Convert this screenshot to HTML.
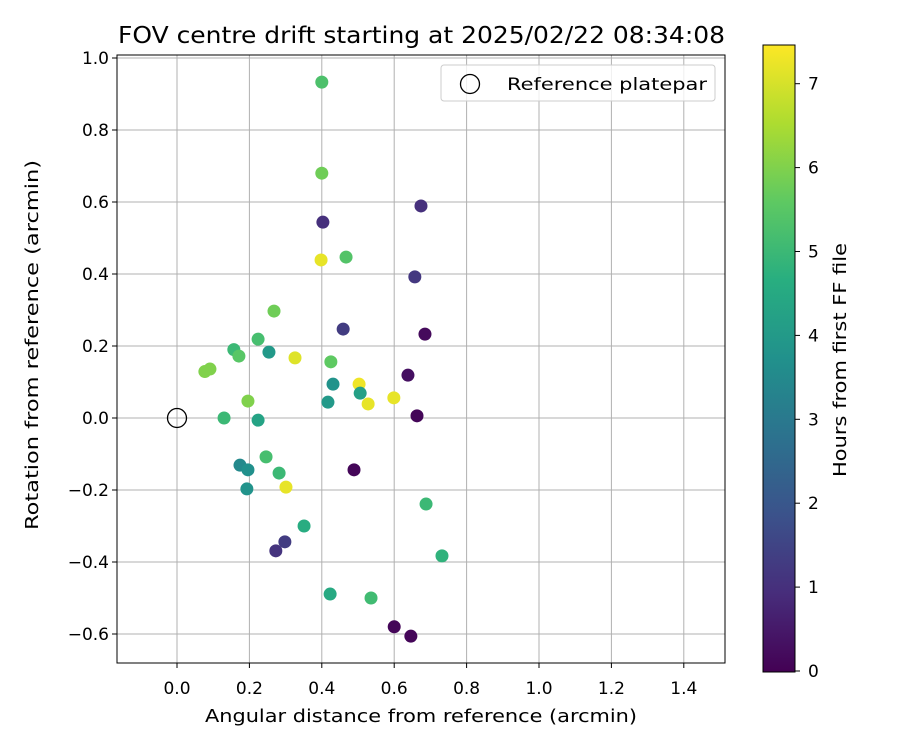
<!DOCTYPE html>
<html><head><meta charset="utf-8"><style>
body{margin:0;background:#fff;font-family:"Liberation Sans","DejaVu Sans",sans-serif;}
svg text{font-family:"DejaVu Sans","Liberation Sans",sans-serif;}
</style></head><body>
<svg id="chart" width="900" height="750">
<defs><linearGradient id="vir" x1="0" y1="1" x2="0" y2="0">
<stop offset="0" stop-color="#440154"/><stop offset="0.125" stop-color="#472d7b"/><stop offset="0.25" stop-color="#3b528b"/><stop offset="0.375" stop-color="#2c728e"/><stop offset="0.5" stop-color="#21918c"/><stop offset="0.625" stop-color="#28ae80"/><stop offset="0.75" stop-color="#5ec962"/><stop offset="0.875" stop-color="#addc30"/><stop offset="1" stop-color="#fde725"/></linearGradient></defs>
<g id="grid"></g><g id="pts"></g><g id="axes"></g>
</svg>
<script>
const xs=[0.40,0.40,0.403,0.674,0.398,0.467,0.657,0.268,0.459,0.685,0.224,0.157,0.254,0.171,0.326,0.425,0.077,0.091,0.638,0.431,0.503,0.506,0.196,0.417,0.528,0.599,0.663,0.13,0.224,0.246,0.174,0.196,0.282,0.489,0.301,0.193,0.688,0.351,0.298,0.273,0.732,0.423,0.536,0.600,0.646];
const ys=[0.933,0.68,0.544,0.589,0.439,0.447,0.392,0.297,0.247,0.233,0.219,0.19,0.183,0.172,0.167,0.156,0.129,0.136,0.119,0.094,0.094,0.069,0.047,0.044,0.039,0.056,0.006,0.0,-0.006,-0.108,-0.131,-0.144,-0.153,-0.144,-0.192,-0.197,-0.239,-0.3,-0.344,-0.369,-0.383,-0.489,-0.5,-0.58,-0.606];
const hours=[5.3,5.8,1.0,1.0,7.2,5.4,1.2,5.8,1.3,0.2,5.2,5.0,4.0,5.5,7.1,5.6,6.0,6.0,0.3,3.8,7.3,4.2,6.0,4.0,7.2,7.2,0.1,5.0,4.3,5.2,3.5,3.7,5.0,0.1,7.2,3.8,5.0,4.6,1.3,1.1,4.8,4.5,5.1,0.1,0.1];
const xTicks=[0.0,0.2,0.4,0.6,0.8,1.0,1.2,1.4];
const yTicks=[-0.6,-0.4,-0.2,0.0,0.2,0.4,0.6,0.8,1.0];
const cTicks=[0,1,2,3,4,5,6,7];
const L=117,R=725,T=55,B=663;
const X=v=>177+v*362, Y=v=>418-v*360, CY=h=>671-h*83.9;
const stops=["#440154","#472d7b","#3b528b","#2c728e","#21918c","#28ae80","#5ec962","#addc30","#fde725"];
function hex(c){return [1,3,5].map(i=>parseInt(c.substr(i,2),16));}
function vir(h){let t=Math.max(0,Math.min(1,h/7.46))*8;let i=Math.min(7,Math.floor(t)),f=t-i;let a=hex(stops[i]),b=hex(stops[i+1]);return `rgb(${a.map((v,k)=>Math.round(v+(b[k]-v)*f)).join(',')})`;}
const NS="http://www.w3.org/2000/svg";
function mk(p,tag,at,txt){const e=document.createElementNS(NS,tag);for(const k in at)e.setAttribute(k,at[k]);if(txt!==undefined)e.textContent=txt;p.appendChild(e);return e;}
const g=document.getElementById('grid'),P=document.getElementById('pts'),A=document.getElementById('axes');
xTicks.forEach(v=>{const l=mk(g,'line',{x1:X(v),x2:X(v),y1:T,y2:B,stroke:'#b0b0b0','stroke-width':1});


mk(A,'line',{x1:X(v),x2:X(v),y1:B,y2:B+5,stroke:'#000'});
const t=mk(A,'text',{x:X(v),y:694,'text-anchor':'middle','font-size':17},v.toFixed(1));

});
yTicks.forEach(v=>{const l=mk(g,'line',{x1:L,x2:R,y1:Y(v),y2:Y(v),stroke:'#b0b0b0','stroke-width':1});


mk(A,'line',{x1:L-5,x2:L,y1:Y(v),y2:Y(v),stroke:'#000'});
const t=mk(A,'text',{x:L-8,y:Y(v)+6,'text-anchor':'end','font-size':17},(v<0?'\u2212':'')+Math.abs(v).toFixed(1));

});
xs.forEach((x,i)=>{const c=mk(P,'circle',{cx:X(x),cy:Y(ys[i]),r:6.5,fill:vir(hours[i])});

});
const ref=mk(P,'circle',{cx:X(0),cy:Y(0),r:9.5,fill:'none',stroke:'#000','stroke-width':1.3});


const fr=mk(A,'rect',{x:L,y:T,width:R-L,height:B-T,fill:'none',stroke:'#000','stroke-width':1});


const cb=mk(A,'rect',{x:763,y:45,width:32,height:627,fill:'url(#vir)',stroke:'#000'});


cTicks.forEach(h=>{mk(A,'line',{x1:795,x2:800,y1:CY(h),y2:CY(h),stroke:'#000'});
const t=mk(A,'text',{x:808,y:CY(h)+6,'font-size':17},String(h));

});
</script>
<svg style="position:absolute;left:0;top:0" width="900" height="750">
<text x="118" y="43" font-size="23" textLength="607" lengthAdjust="spacingAndGlyphs">FOV centre drift starting at 2025/02/22 08:34:08</text>
<text x="205" y="722" font-size="18" textLength="432" lengthAdjust="spacingAndGlyphs">Angular distance from reference (arcmin)</text>
<text transform="translate(38,530) rotate(-90)" font-size="18" textLength="370" lengthAdjust="spacingAndGlyphs">Rotation from reference (arcmin)</text>
<text transform="translate(846,477) rotate(-90)" font-size="18" textLength="234" lengthAdjust="spacingAndGlyphs">Hours from first FF file</text>
<g>
<rect x="441" y="65" width="274" height="36" rx="3" fill="#fff" fill-opacity="0.8" stroke="#ccc"/>
<circle cx="470" cy="84" r="9.5" fill="none" stroke="#000" stroke-width="1.3"/>
<text x="507" y="90" font-size="17" textLength="200" lengthAdjust="spacingAndGlyphs">Reference platepar</text>
</g>
</svg>
</body></html>
